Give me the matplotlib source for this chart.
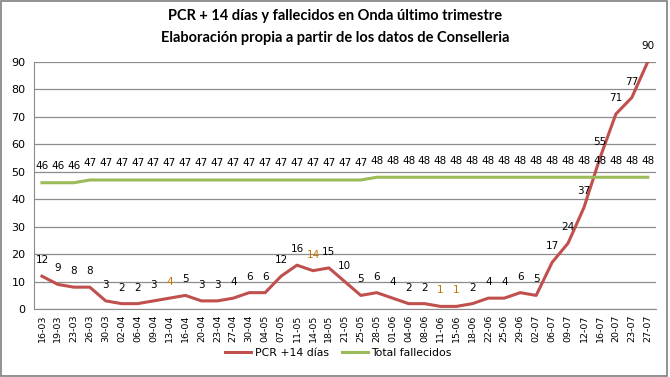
import matplotlib.pyplot as plt
from matplotlib.patches import Rectangle

# Datos
fechas = ['16-03', '19-03', '23-03', '26-03', '30-03', '02-04', '06-04', '09-04',
          '13-04', '16-04', '20-04', '23-04', '27-04', '30-04', '04-05', '07-05',
          '11-05', '14-05', '18-05', '21-05', '25-05', '28-05', '01-06', '04-06',
          '08-06', '11-06', '15-06', '18-06', '22-06', '25-06', '29-06', '02-07',
          '06-07', '09-07', '12-07', '16-07', '20-07', '23-07', '27-07']
pcr = [12, 9, 8, 8, 3, 2, 2, 3, 4, 5, 3, 3, 4, 6, 6, 12, 16, 14, 15, 10,
       5, 6, 4, 2, 2, 1, 1, 2, 4, 4, 6, 5, 17, 24, 37, 55, 71, 77, 90]
fallecidos = [46, 46, 46] + [47] * 18 + [48] * 18

ROJO = '#C0504D'
VERDE = '#9BBB59'
GRIS = '#8C8C8C'

fig = plt.figure(figsize=(6.7, 3.77), dpi=100)
ax = fig.add_axes([0.0507, 0.180, 0.928, 0.656])

x = list(range(len(fechas)))
l1, = ax.plot(x, pcr, color=ROJO, linewidth=2.2, label='PCR +14 días', zorder=3)
l2, = ax.plot(x, fallecidos, color=VERDE, linewidth=2.2, label='Total fallecidos', zorder=3)

# Etiquetas de datos (algunas salen en naranja en el original)
naranja = {8, 17, 25, 26}
for i, v in enumerate(pcr):
    ax.annotate(str(v), (i, v), xytext=(0, 11.5), textcoords='offset points',
                ha='center', va='center', fontsize=7.5,
                color='#C07800' if i in naranja else 'black', zorder=4)
for i, v in enumerate(fallecidos):
    ax.annotate(str(v), (i, v), xytext=(0, 12), textcoords='offset points',
                ha='center', va='center', fontsize=7.5, color='black', zorder=4)

ax.set_xlim(-0.5, len(fechas) - 0.5)
ax.set_ylim(0, 90)
ax.set_yticks(range(0, 91, 10))
ax.set_xticks(x)
ax.set_xticklabels(fechas, rotation=90, fontsize=6.8)
ax.tick_params(axis='y', labelsize=8, length=0, pad=6)
ax.tick_params(axis='x', length=0, pad=4)
ax.grid(axis='y', color=GRIS, linewidth=0.9)
ax.set_axisbelow(True)
for s in ['top', 'right']:
    ax.spines[s].set_visible(False)
ax.spines['left'].set_color(GRIS)
ax.spines['bottom'].set_color(GRIS)

fig.text(0.5, 0.957, 'PCR + 14 días y fallecidos en Onda último trimestre',
         ha='center', va='center', fontsize=10.5, fontweight='bold', family='Lato')
fig.text(0.5, 0.899, 'Elaboración propia a partir de los datos de Conselleria',
         ha='center', va='center', fontsize=10.5, fontweight='bold', family='Lato')

fig.legend(handles=[l1, l2], loc='center', bbox_to_anchor=(0.505, 0.064), ncol=2,
           frameon=False, fontsize=7.8, handlelength=2.4, columnspacing=1.2,
           handletextpad=0.3)

# Marco exterior
fig.patches.append(Rectangle((0.002, 0.003), 0.993, 0.994, transform=fig.transFigure,
                             fill=False, edgecolor='#7F7F7F', linewidth=1.2))

fig.savefig('out.png', dpi=100)
